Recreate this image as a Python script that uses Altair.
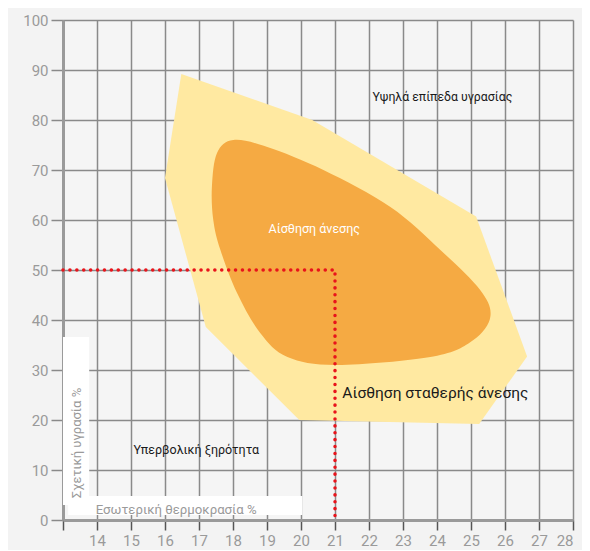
import altair as alt
import pandas as pd

# Outer comfort zone polygon (light yellow)
outer_x = [16.48, 20.33, 25.15, 26.65, 25.24, 19.95, 17.2, 16.0]
outer_y = [89.2, 80.0, 60.7, 32.7, 19.2, 20.0, 38.6, 68.4]

# Inner comfort zone (orange blob) control points
inner_x = [18.01, 19.01, 20.66, 22.63, 24.10, 25.27, 25.57, 25.07, 23.89, 21.06, 19.60, 18.80, 18.12, 17.63, 17.42, 17.38, 17.53]
inner_y = [76.0, 74.6, 70.0, 62.6, 54.0, 46.0, 40.7, 36.0, 32.7, 31.0, 32.6, 37.4, 45.4, 54.0, 60.0, 66.7, 73.4]

# Red dotted guide
guide_x = [13, 21, 21]
guide_y = [50, 50, 0]

# Labels
label_text = ["Υψηλά επίπεδα υγρασίας", "Αίσθηση άνεσης", "Αίσθηση σταθερής άνεσης", "Υπερβολική ξηρότητα"]
label_x = [24.16, 20.39, 23.95, 16.92]
label_y = [84.6, 58.2, 25.4, 14.0]
label_color = ["#1a1a1a", "#ffffff", "#1a1a1a", "#1a1a1a"]
label_size = [12.3, 12.5, 15.5, 12.5]

x_title = "Εσωτερική θερμοκρασία %"
y_title = "Σχετική υγρασία %"

x_ticks = list(range(13, 29))
y_ticks = list(range(0, 101, 10))

FONT = "Roboto, sans-serif"

xs = alt.Scale(domain=[13, 28], nice=False, zero=False)
ys = alt.Scale(domain=[0, 100], nice=False)

outer_df = pd.DataFrame({"x": outer_x, "y": outer_y, "i": range(len(outer_x))})
inner_df = pd.DataFrame({"x": inner_x, "y": inner_y, "i": range(len(inner_x))})
guide_df = pd.DataFrame({"x": guide_x, "y": guide_y, "i": range(len(guide_x))})

xaxis = alt.Axis(values=x_ticks, labelOverlap=False,
                 labelExpr="datum.value == 13 ? '' : datum.label",
                 grid=True, gridColor="#8a8a8a", gridWidth=1.5, gridOpacity=1,
                 domainColor="#9a9a9a", domainWidth=3, tickColor="#555555", tickSize=10,
                 tickWidth=1.5, labelColor="#9a9a9a", labelFontSize=15, labelFont=FONT,
                 labelPadding=3, title=None)
yaxis = alt.Axis(values=y_ticks, labelOverlap=False, grid=True, gridColor="#8a8a8a", gridWidth=1.5, gridOpacity=1,
                 domainColor="#9a9a9a", domainWidth=3, tickColor="#8a8a8a", tickSize=12,
                 tickWidth=1.5, labelColor="#9a9a9a", labelFontSize=15, labelFont=FONT,
                 labelPadding=3, title=None)

X = alt.X("x:Q", scale=xs, axis=xaxis)
Y = alt.Y("y:Q", scale=ys, axis=yaxis)

base = alt.Chart(outer_df).mark_line(filled=True, color="#FFE9A1", interpolate="linear-closed").encode(
    x=X, y=Y, order="i:Q",
)

inner = alt.Chart(inner_df).mark_line(filled=True, color="#F5AA43", interpolate="cardinal-closed").encode(
    x=X, y=Y, order="i:Q"
)

guide = alt.Chart(guide_df).mark_line(color="#E8141B", strokeWidth=3.5, strokeDash=[0.1, 6.8], strokeCap="round").encode(
    x=X, y=Y, order="i:Q"
)

boxes_df = pd.DataFrame({"x": [13.0, 13.15], "x2": [13.77, 20.04], "y": [36.6, 4.8], "y2": [3.0, 1.0]})
boxes = alt.Chart(boxes_df).mark_rect(color="#ffffff").encode(
    x=X, x2="x2:Q", y=Y, y2="y2:Q"
)

labels_df = pd.DataFrame({"t": label_text, "x": label_x, "y": label_y, "c": label_color, "s": label_size})
labels = alt.Chart(labels_df).mark_text(font=FONT, align="center", baseline="middle").encode(
    x=X, y=Y, text="t:N",
    color=alt.Color("c:N", scale=None), size=alt.Size("s:Q", scale=None)
)

xt = alt.Chart(pd.DataFrame({"t": [x_title], "x": [16.33], "y": [2.0]})).mark_text(
    font=FONT, fontSize=13.2, color="#9a9a9a", align="center", baseline="middle"
).encode(x=X, y=Y, text="t:N")

yt = alt.Chart(pd.DataFrame({"t": [y_title], "x": [13.41], "y": [15.4]})).mark_text(
    font=FONT, fontSize=13, color="#9a9a9a", align="center", baseline="middle", angle=270
).encode(x=X, y=Y, text="t:N")

chart = alt.layer(base, inner, guide, boxes, labels, xt, yt).properties(
    width=510, height=500,
    autosize=alt.AutoSizeParams(type="none"),
    padding={"left": 55, "top": 12, "right": 9, "bottom": 30},
    background="#f3f3f3",
).configure_view(stroke=None, fill="#f5f5f5")

chart.save("out.html", embed_options={"renderer": "svg", "actions": False})
